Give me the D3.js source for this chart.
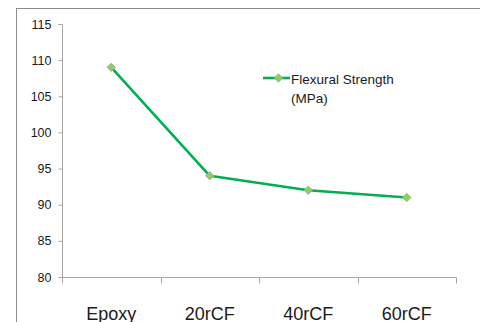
<!DOCTYPE html>
<html>
<head>
<meta charset="utf-8">
<script src="https://cdn.jsdelivr.net/npm/d3@7"></script>
<style>
  html, body { margin: 0; padding: 0; background: #fff; }
  svg { display: block; }
  text { font-family: "Liberation Sans", Arial, sans-serif; fill: #1a1a1a; }
</style>
</head>
<body>
<svg id="chart" width="480" height="322"></svg>
<script>
// Flexural strength by material
const categories = ["Epoxy", "20rCF", "40rCF", "60rCF"];
const strength = [109, 94, 92, 91];
const yTicks = [80, 85, 90, 95, 100, 105, 110, 115];
const seriesName = ["Flexural Strength", "(MPa)"];

const svg = d3.select("#chart");
const plot = { left: 62, right: 456, top: 24, bottom: 277 };

// chart area frame (extends past the window on right and bottom)
svg.append("rect")
  .attr("x", 16.5).attr("y", 8.5)
  .attr("width", 600).attr("height", 600)
  .attr("fill", "none").attr("stroke", "#8c8c8c").attr("stroke-width", 1);

const x = d3.scaleBand().domain(categories).range([plot.left, plot.right]).padding(0);
const y = d3.scaleLinear().domain([80, 115]).range([plot.bottom, plot.top]);

// y axis
const yAxis = svg.append("g")
  .attr("transform", `translate(${plot.left + 0.5},0)`)
  .call(d3.axisLeft(y).tickValues(yTicks).tickSize(4).tickPadding(7).tickFormat(d3.format("d")));
yAxis.selectAll("path, line").attr("stroke", "#a6a6a6");
yAxis.select(".domain").attr("d", `M-4,${y(115) + 0.5}H0V${y(80) + 0.5}H-4`);
yAxis.selectAll("text").attr("font-size", 12.5).attr("fill", "#1a1a1a")
  .attr("font-family", "'Liberation Sans', Arial, sans-serif");

// x axis with ticks on category boundaries
const xAxisG = svg.append("g").attr("transform", `translate(0,${plot.bottom + 0.5})`);
xAxisG.append("line")
  .attr("x1", plot.left).attr("x2", plot.right + 0.5)
  .attr("stroke", "#a6a6a6");
const bounds = categories.map(c => x(c)).concat([x(categories[categories.length - 1]) + x.bandwidth()]);
xAxisG.selectAll(".tk").data(bounds).join("line")
  .attr("class", "tk")
  .attr("x1", d => Math.round(d) + 0.5).attr("x2", d => Math.round(d) + 0.5)
  .attr("y1", 0).attr("y2", 6)
  .attr("stroke", "#a6a6a6");
xAxisG.selectAll(".lbl").data(categories).join("text")
  .attr("class", "lbl")
  .attr("x", d => x(d) + x.bandwidth() / 2)
  .attr("y", 42)
  .attr("text-anchor", "middle")
  .attr("font-size", 18)
  .text(d => d);

// series line
const line = d3.line()
  .x((d, i) => x(categories[i]) + x.bandwidth() / 2)
  .y(d => y(d));
svg.append("path")
  .datum(strength)
  .attr("d", line)
  .attr("fill", "none")
  .attr("stroke", "#00b050")
  .attr("stroke-width", 2.6)
  .attr("stroke-linejoin", "round");

const diamond = d3.symbol().type(d3.symbolDiamond2).size(46);
svg.selectAll(".pt").data(strength).join("path")
  .attr("class", "pt")
  .attr("transform", (d, i) => `translate(${x(categories[i]) + x.bandwidth() / 2},${y(d)})`)
  .attr("d", diamond)
  .attr("fill", "#92d050")
  .attr("stroke", "#8fa7c4")
  .attr("stroke-width", 0.8);

// legend
const lg = svg.append("g").attr("transform", "translate(263,78)");
lg.append("line").attr("x1", 0).attr("x2", 27).attr("y1", 0).attr("y2", 0)
  .attr("stroke", "#00b050").attr("stroke-width", 2.6);
lg.append("path").attr("transform", "translate(15.5,0)").attr("d", diamond)
  .attr("fill", "#92d050").attr("stroke", "#8fa7c4").attr("stroke-width", 0.8);
lg.selectAll(".lt").data(seriesName).join("text")
  .attr("class", "lt")
  .attr("x", 28)
  .attr("y", (d, i) => 6 + i * 19)
  .attr("font-size", 13.5)
  .text(d => d);
</script>
</body>
</html>
